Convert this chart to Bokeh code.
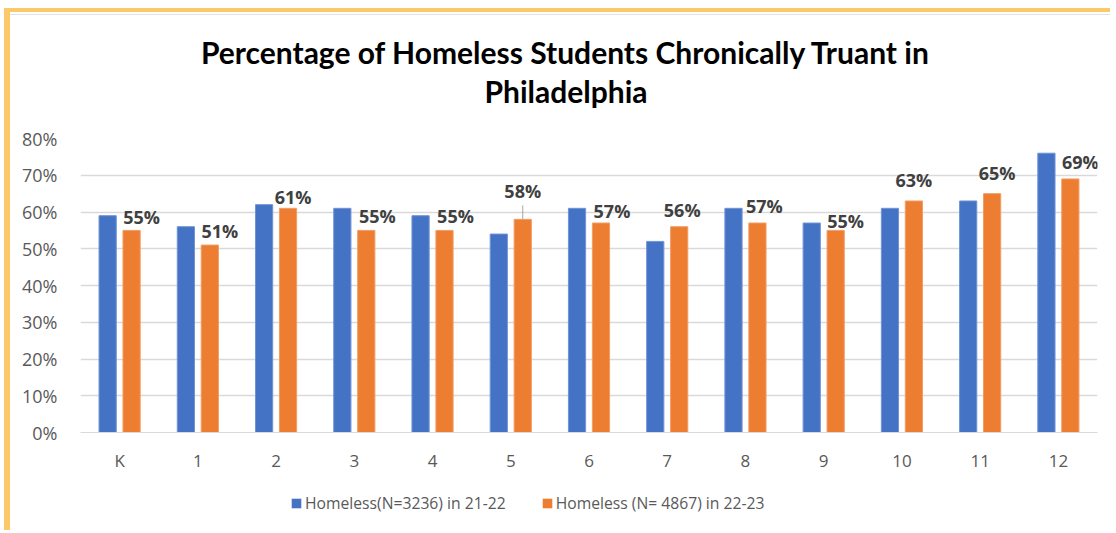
from bokeh.plotting import figure
from bokeh.layouts import column
from bokeh.models import (FactorRange, FixedTicker, NumeralTickFormatter, Legend, LegendItem,
                          ColumnDataSource, Label, Range1d)
from bokeh.transform import dodge
from bokeh.core.properties import value
from bokeh.embed import file_html
from bokeh.resources import INLINE

categories = ["K", "1", "2", "3", "4", "5", "6", "7", "8", "9", "10", "11", "12"]
homeless_2122 = [0.59, 0.56, 0.62, 0.61, 0.59, 0.54, 0.61, 0.52, 0.61, 0.57, 0.61, 0.63, 0.76]
homeless_2223 = [0.55, 0.51, 0.61, 0.55, 0.55, 0.58, 0.57, 0.56, 0.57, 0.55, 0.63, 0.65, 0.69]
series_names = ["Homeless(N=3236) in 21-22", "Homeless (N= 4867) in 22-23"]
y_ticks = [0, 0.1, 0.2, 0.3, 0.4, 0.5, 0.6, 0.7, 0.8]
title_lines = ["Percentage of Homeless Students Chronically Truant in", "Philadelphia"]

# label placement tweaks (pixels), mimicking the manual placement of the original
label_dx = [10, 10, 5, 11, 11, 0, 11, 3, 7, 10, 0, 5, 10]
label_dy = [-13, -14, -11, -14, -14, -28, -12, -17, -17, -9, -21, -21, -17]

BLUE = "#4472C4"
ORANGE = "#ED7D31"
GRID = "#D9D9D9"
TXT = "#595959"

src = ColumnDataSource(dict(
    cat=categories, a=homeless_2122, b=homeless_2223,
    lab=[f"{round(v*100)}%" for v in homeless_2223],
    dx=label_dx, dy=label_dy,
))

W = 1100
BL, BR = 70, 13   # left / right borders, shared by every strip so the frames line up
FW = W - BL - BR

# ---- title strip ----
TH = 110
p0 = figure(width=W, height=TH, output_backend="svg", toolbar_location=None,
            x_range=Range1d(0, FW), y_range=Range1d(TH, 0),
            min_border_left=BL, min_border_right=BR, min_border_top=0, min_border_bottom=0,
            x_axis_location=None, y_axis_location=None)
p0.grid.grid_line_color = None
p0.outline_line_color = None
p0.border_fill_color = "white"
p0.background_fill_color = "white"
p0.styles = {"margin-top": "2px", "border-top": "1px solid #E2E2E2"}
for txt, yy in zip(title_lines, [36, 75]):
    p0.add_layout(Label(x=FW / 2 - 23, y=yy, text=txt, text_align="center", text_baseline="middle",
                        text_font="Lato", text_font_style="bold", text_font_size="30px",
                        text_color="#000000"))

# ---- main chart ----
H = 358
p = figure(x_range=FactorRange(*categories, range_padding=0), y_range=(0, 0.8),
           width=W, height=H, output_backend="svg", toolbar_location=None,
           min_border_left=BL, min_border_right=BR, min_border_top=14, min_border_bottom=50)
p.outline_line_color = None
p.background_fill_color = "white"
p.border_fill_color = "white"

r1 = p.vbar(x=dodge("cat", -0.153, range=p.x_range), top="a", width=0.22, source=src,
            fill_color=BLUE, line_color="#6F94D6", line_width=1)
r2 = p.vbar(x=dodge("cat", 0.153, range=p.x_range), top="b", width=0.22, source=src,
            fill_color=ORANGE, line_color="#F29D65", line_width=1)

# leader line for grade 5 label
i5 = categories.index("5")
seg_src = ColumnDataSource(dict(cat=["5"], y0=[homeless_2223[i5]], y1=[homeless_2223[i5] + 0.038]))
p.segment(x0=dodge("cat", 0.153, range=p.x_range), y0="y0",
          x1=dodge("cat", 0.153, range=p.x_range), y1="y1", source=seg_src,
          line_color="#A6A6A6", line_width=1)

p.text(x=dodge("cat", 0.153, range=p.x_range), y="b", text="lab", source=src,
       x_offset="dx", y_offset="dy", text_align="center", text_baseline="middle",
       text_font=value("Open Sans"), text_font_style="bold", text_font_size="18px",
       text_color="#404040")

p.yaxis.ticker = FixedTicker(ticks=y_ticks)
p.yaxis.formatter = NumeralTickFormatter(format="0%")
p.yaxis.axis_line_color = None
p.yaxis.major_tick_line_color = None
p.yaxis.minor_tick_line_color = None
p.yaxis.major_label_text_font = "Open Sans"
p.yaxis.major_label_text_font_size = "18px"
p.yaxis.major_label_text_color = TXT
p.yaxis.major_label_standoff = 17

p.xaxis.axis_line_color = GRID
p.xaxis.major_tick_line_color = None
p.xaxis.minor_tick_line_color = None
p.xaxis.major_label_text_font = "Open Sans"
p.xaxis.major_label_text_font_size = "17px"
p.xaxis.major_label_text_color = TXT
p.xaxis.major_label_standoff = 10

p.xgrid.grid_line_color = None
p.ygrid.grid_line_color = GRID
p.ygrid.grid_line_width = 1.3

# ---- legend strip (hidden copies of the bars, outside its visible range) ----
p2 = figure(width=W, height=48, output_backend="svg", toolbar_location=None,
            x_range=FactorRange(*categories), y_range=(2, 3),
            min_border_left=BL, min_border_right=BR, min_border_top=0, min_border_bottom=0,
            x_axis_location=None, y_axis_location=None)
p2.grid.grid_line_color = None
p2.outline_line_color = None
p2.border_fill_color = "white"
p2.background_fill_color = "white"
k1 = p2.vbar(x="cat", top="a", width=0.22, source=src, fill_color=BLUE, line_color=None)
k2 = p2.vbar(x="cat", top="b", width=0.22, source=src, fill_color=ORANGE, line_color=None)
legend = Legend(items=[LegendItem(label=series_names[0], renderers=[k1]),
                       LegendItem(label=series_names[1], renderers=[k2])],
                orientation="horizontal", location=(210, 16),
                label_text_font="Open Sans", label_text_font_size="15.7px", label_text_color=TXT,
                glyph_width=12, glyph_height=12, label_standoff=3, spacing=35,
                border_line_color=None, background_fill_alpha=0, margin=0, padding=0)
p2.add_layout(legend, "center")

lay = column(p0, p, p2, spacing=0)
lay.styles = {"margin-left": "4px", "margin-top": "8px",
              "border-left": "6px solid #FBC86A", "border-top": "4px solid #FBC86A"}

open("out.html", "w").write(file_html(lay, INLINE))
